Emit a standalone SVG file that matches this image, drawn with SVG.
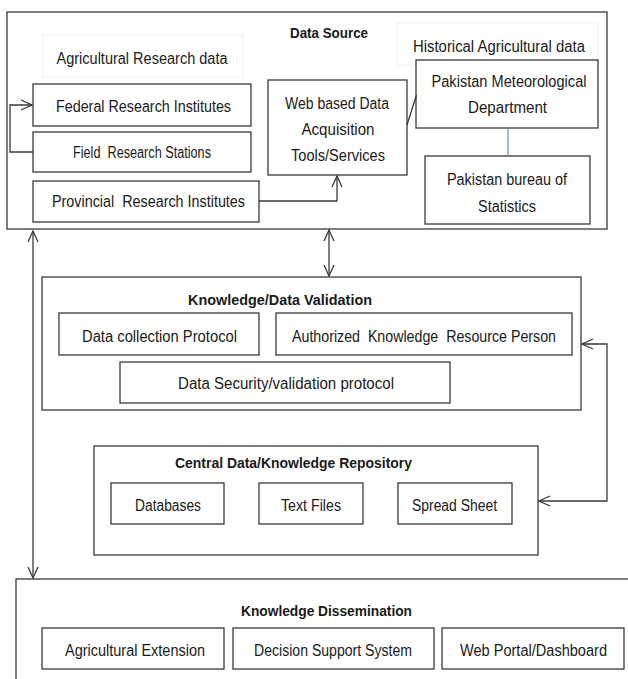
<svg xmlns="http://www.w3.org/2000/svg" width="628" height="679" viewBox="0 0 628 679">
<defs>
<style>
.box{fill:#fff;stroke:#3a3a3a;stroke-width:1.3}
.faint{fill:none;stroke:#f0f0f0;stroke-width:1}
.t{font-family:"Liberation Sans",Arial,sans-serif;font-size:16px;fill:#1a1a1a;text-anchor:middle}
.b{font-family:"Liberation Sans",Arial,sans-serif;font-size:15.5px;font-weight:bold;fill:#1a1a1a;text-anchor:middle}
.c{fill:none;stroke:#3a3a3a;stroke-width:1.3}
</style>
<marker id="ah" markerUnits="userSpaceOnUse" markerWidth="14" markerHeight="14" refX="11" refY="6" orient="auto-start-reverse" overflow="visible">
<path d="M0,1 L11,6 L0,11" fill="none" stroke="#3a3a3a" stroke-width="1.3"/>
</marker>
</defs>
<rect width="628" height="679" fill="#fff"/>

<g id="data-source">
<rect class="box" x="7" y="12" width="600" height="217"/>
<text class="b" x="329" y="38" textLength="78" lengthAdjust="spacingAndGlyphs">Data Source</text>
</g>
<g id="agri-research-label">
<rect class="faint" x="43" y="35" width="200" height="42"/>
<text class="t" x="142" y="64" textLength="171" lengthAdjust="spacingAndGlyphs">Agricultural Research data</text>
</g>
<g id="historical-label">
<rect class="faint" x="397" y="23" width="201" height="42"/>
<text class="t" x="499" y="52" textLength="172" lengthAdjust="spacingAndGlyphs">Historical Agricultural data</text>
</g>
<g id="federal">
<rect class="box" x="33" y="84" width="218" height="42"/>
<text class="t" x="143.5" y="112" textLength="175" lengthAdjust="spacingAndGlyphs">Federal Research Institutes</text>
</g>
<g id="field">
<rect class="box" x="33" y="132" width="218" height="40"/>
<text class="t" x="142" y="158" font-size="14.5" textLength="138" lengthAdjust="spacingAndGlyphs" xml:space="preserve">Field  Research Stations</text>
</g>
<g id="provincial">
<rect class="box" x="33" y="181" width="226" height="41"/>
<text class="t" x="148.5" y="207" textLength="193" lengthAdjust="spacingAndGlyphs" xml:space="preserve">Provincial  Research Institutes</text>
</g>
<g id="web-tools">
<rect class="box" x="268" y="80" width="139" height="95"/>
<text class="t" x="337" y="109" textLength="104" lengthAdjust="spacingAndGlyphs">Web based Data</text>
<text class="t" x="338" y="135" textLength="73" lengthAdjust="spacingAndGlyphs">Acquisition</text>
<text class="t" x="338" y="161" textLength="94" lengthAdjust="spacingAndGlyphs">Tools/Services</text>
</g>
<g id="pmd">
<rect class="box" x="416" y="60" width="182" height="68"/>
<text class="t" x="509" y="87" textLength="155" lengthAdjust="spacingAndGlyphs">Pakistan Meteorological</text>
<text class="t" x="507.5" y="113" textLength="79" lengthAdjust="spacingAndGlyphs">Department</text>
</g>
<g id="pbs">
<rect class="box" x="425" y="156" width="165" height="68"/>
<text class="t" x="507" y="185" textLength="120" lengthAdjust="spacingAndGlyphs">Pakistan bureau of</text>
<text class="t" x="507" y="212" textLength="58" lengthAdjust="spacingAndGlyphs">Statistics</text>
</g>

<g id="validation">
<rect class="box" x="42" y="277" width="539" height="133"/>
<text class="b" x="280" y="305" textLength="184" lengthAdjust="spacingAndGlyphs">Knowledge/Data Validation</text>
</g>
<g id="data-collection">
<rect class="box" x="59" y="313" width="200" height="42"/>
<text class="t" x="159.5" y="342" textLength="155" lengthAdjust="spacingAndGlyphs">Data collection Protocol</text>
</g>
<g id="authorized">
<rect class="box" x="276" y="313" width="296" height="42"/>
<text class="t" x="424" y="342" textLength="264" lengthAdjust="spacingAndGlyphs" xml:space="preserve">Authorized  Knowledge  Resource Person</text>
</g>
<g id="security">
<rect class="box" x="120" y="362" width="330" height="41"/>
<text class="t" x="286" y="389" textLength="216" lengthAdjust="spacingAndGlyphs">Data Security/validation protocol</text>
</g>

<g id="repository">
<rect class="box" x="94" y="446" width="444" height="109"/>
<text class="b" x="293.5" y="468" textLength="237" lengthAdjust="spacingAndGlyphs">Central Data/Knowledge Repository</text>
</g>
<g id="databases">
<rect class="box" x="111" y="483" width="113" height="41"/>
<text class="t" x="168" y="511" textLength="66" lengthAdjust="spacingAndGlyphs">Databases</text>
</g>
<g id="text-files">
<rect class="box" x="259" y="483" width="104" height="41"/>
<text class="t" x="311" y="511" textLength="60" lengthAdjust="spacingAndGlyphs">Text Files</text>
</g>
<g id="spread-sheet">
<rect class="box" x="398" y="483" width="114" height="41"/>
<text class="t" x="454.5" y="511" textLength="85" lengthAdjust="spacingAndGlyphs">Spread Sheet</text>
</g>

<g id="dissemination">
<rect class="box" x="16" y="579" width="630" height="130"/>
<text class="b" x="326.5" y="616" textLength="171" lengthAdjust="spacingAndGlyphs">Knowledge Dissemination</text>
</g>
<g id="extension">
<rect class="box" x="42" y="628" width="182" height="41"/>
<text class="t" x="135" y="656" textLength="140" lengthAdjust="spacingAndGlyphs">Agricultural Extension</text>
</g>
<g id="dss">
<rect class="box" x="233" y="628" width="201" height="41"/>
<text class="t" x="333" y="656" textLength="158" lengthAdjust="spacingAndGlyphs">Decision Support System</text>
</g>
<g id="portal">
<rect class="box" x="442" y="628" width="182" height="41"/>
<text class="t" x="533.5" y="656" textLength="147" lengthAdjust="spacingAndGlyphs">Web Portal/Dashboard</text>
</g>

<g id="connectors">
<path class="c" d="M33,152 H10 V105 H32" marker-end="url(#ah)"/>
<path class="c" d="M259,201 H337 V176" marker-end="url(#ah)"/>
<path class="c" d="M407,125 L416.5,95"/>
<path d="M508,128 V156" fill="none" stroke="#4a78b0" stroke-width="1"/>
<path class="c" d="M33,231 V578" marker-start="url(#ah)" marker-end="url(#ah)"/>
<path class="c" d="M329,230 V276" marker-start="url(#ah)" marker-end="url(#ah)"/>
<path class="c" d="M582,344 H607 V501 H539" marker-start="url(#ah)" marker-end="url(#ah)"/>
</g>
</svg>
